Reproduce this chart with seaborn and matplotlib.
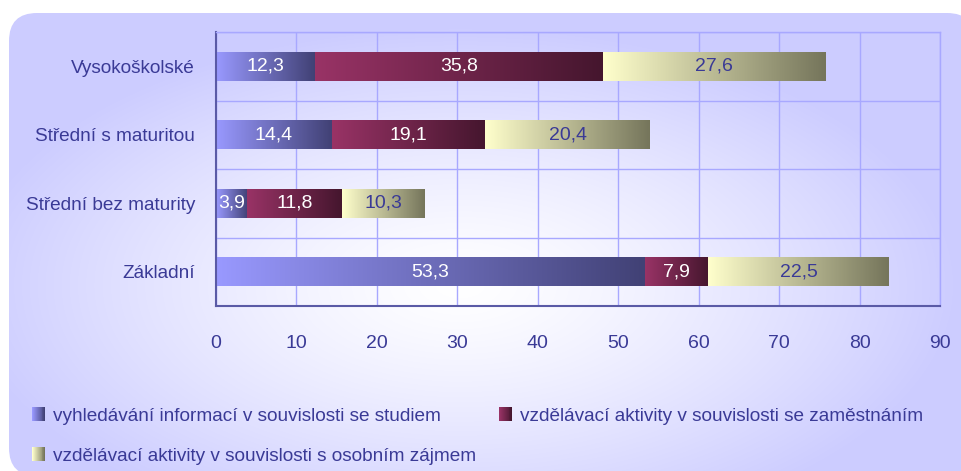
import numpy as np
import pandas as pd
import matplotlib
matplotlib.use("Agg")
import matplotlib.pyplot as plt
import seaborn as sns
from matplotlib.colors import to_rgb
from matplotlib.patches import FancyBboxPatch, Rectangle
from matplotlib.legend_handler import HandlerBase

# ---- data -------------------------------------------------------------
categories = ["Vysokoškolské", "Střední s maturitou", "Střední bez maturity", "Základní"]
series_names = [
    "vyhledávání informací v souvislosti se studiem",
    "vzdělávací aktivity v souvislosti se zaměstnáním",
    "vzdělávací aktivity v souvislosti s osobním zájmem",
]
study = [12.3, 14.4, 3.9, 53.3]
work = [35.8, 19.1, 11.8, 7.9]
personal = [27.6, 20.4, 10.3, 22.5]
x_ticks = [0, 10, 20, 30, 40, 50, 60, 70, 80, 90]

# ---- style ------------------------------------------------------------
sns.set_style("white")
plt.rcParams["font.family"] = ["Liberation Sans Narrow", "Liberation Sans", "DejaVu Sans"]
FS_NUM = 14
FS_TXT = 13.7
TEXT = "#3A3A96"
GRID = "#A8A8FF"
AXIS = "#5A5AA6"
PANEL = "#CCCCFF"
gradients = [("#9999FF", "#414175"), ("#993366", "#45162E"), ("#FFFFCC", "#75755B")]
label_colors = ["white", "white", TEXT]


def gradient_strip(c0, c1, n=256):
    t = np.linspace(0, 1, n)[:, None]
    a, b = np.array(to_rgb(c0)), np.array(to_rgb(c1))
    return (a * (1 - t) + b * t)[None, :, :]


W, H = 962, 471
fig = plt.figure(figsize=(W / 100, H / 100), dpi=100)
fig.patch.set_facecolor("white")

# ---- rounded background panel with a soft radial glow -----------------
bg = fig.add_axes([0, 0, 1, 1], zorder=0)
bg.set_xlim(0, W)
bg.set_ylim(H, 0)
bg.axis("off")
yy, xx = np.mgrid[0:H, 0:W]
r = np.sqrt(((xx - 460) / 500.0) ** 2 + ((yy - 285) / 260.0) ** 2)
t = np.clip(r, 0, 1) ** 1.3
panel_rgb = np.array(to_rgb(PANEL))
img = (1 - t)[..., None] * np.ones(3) + t[..., None] * panel_rgb
im = bg.imshow(img, extent=(0, W, H, 0), interpolation="bilinear")
panel = FancyBboxPatch((9, 13), 966, 463, boxstyle="round,pad=0,rounding_size=28",
                       transform=bg.transData, facecolor="none", edgecolor="none")
bg.add_patch(panel)
im.set_clip_path(panel)

# ---- main axes ---------------------------------------------------------
ax = fig.add_axes([216 / W, 1 - 306 / H, (940 - 216) / W, (306 - 32) / H], zorder=1)
ax.set_facecolor("none")

df = pd.DataFrame({
    "category": categories * 3,
    "series": np.repeat(series_names, len(categories)),
    "value": study + work + personal,
})

lefts = np.zeros(len(categories))
containers = []
for name, vals, (c0, c1) in zip(series_names, [study, work, personal], gradients):
    sub = df[df["series"] == name]
    sns.barplot(data=sub, x="value", y="category", order=categories, orient="h",
                left=lefts.copy(), width=0.42, color=c1, errorbar=None,
                linewidth=0, ax=ax, zorder=2)
    containers.append(ax.containers[-1])
    lefts = lefts + np.array(vals)

# horizontal colour gradient across every bar segment
for cont, (c0, c1) in zip(containers, gradients):
    for bar in cont:
        x0, y0, w, h = bar.get_x(), bar.get_y(), bar.get_width(), bar.get_height()
        ax.imshow(gradient_strip(c0, c1), extent=(x0, x0 + w, y0 + h, y0),
                  aspect="auto", interpolation="bilinear", zorder=2.2)

for cont, vals, col in zip(containers, [study, work, personal], label_colors):
    ax.bar_label(cont, labels=[f"{v:.1f}".replace(".", ",") for v in vals],
                 label_type="center", color=col, fontsize=FS_NUM, zorder=5)

ax.set_xlim(0, 90)
ax.set_ylim(len(categories) - 0.5, -0.5)
ax.set_xticks(x_ticks)
ax.set_yticks(range(len(categories)))
ax.set_yticks(np.arange(-0.5, len(categories), 1.0), minor=True)
ax.set_xlabel("")
ax.set_ylabel("")

ax.set_axisbelow(True)
ax.grid(axis="x", which="major", color=GRID, lw=1, zorder=0)
ax.grid(axis="y", which="minor", color=GRID, lw=1, zorder=0)
ax.grid(axis="y", which="major", visible=False)

for side in ("top", "right"):
    ax.spines[side].set_color(GRID)
    ax.spines[side].set_linewidth(1)
for side in ("left", "bottom"):
    ax.spines[side].set_color(AXIS)
    ax.spines[side].set_linewidth(1.5)

ax.tick_params(axis="x", which="major", direction="out", length=7, width=1.5,
               color=AXIS, labelcolor=TEXT, labelsize=FS_NUM, pad=14)
ax.tick_params(axis="y", which="major", length=0, labelcolor=TEXT, labelsize=FS_TXT, pad=15)
ax.tick_params(axis="y", which="minor", direction="out", length=8, width=1.5, color=AXIS)
ax.tick_params(axis="x", which="minor", length=0)


# ---- legend with gradient swatches -----------------------------------
class GradientSwatch:
    def __init__(self, c0, c1):
        self.c0, self.c1 = c0, c1


class GradientHandler(HandlerBase):
    def create_artists(self, legend, orig_handle, xdescent, ydescent, width, height,
                       fontsize, trans):
        n = 14
        a, b = np.array(to_rgb(orig_handle.c0)), np.array(to_rgb(orig_handle.c1))
        arts = []
        for i in range(n):
            f = i / (n - 1)
            arts.append(Rectangle((-xdescent + width * i / n, -ydescent), width / n * 1.05,
                                  height, facecolor=a * (1 - f) + b * f, edgecolor="none",
                                  transform=trans))
        return arts


swatches = [GradientSwatch(c0, c1) for c0, c1 in gradients]
leg_kw = dict(handler_map={GradientSwatch: GradientHandler()}, loc="upper left",
              frameon=False, fontsize=FS_TXT, labelcolor=TEXT,
              handlelength=0.7, handleheight=0.75, handletextpad=0.4,
              labelspacing=1.18, borderpad=0, borderaxespad=0)
leg1 = fig.legend([swatches[0], swatches[2]], [series_names[0], series_names[2]],
                  bbox_to_anchor=(32 / W, 1 - 407 / H), **leg_kw)
leg2 = fig.legend([swatches[1]], [series_names[1]],
                  bbox_to_anchor=(499 / W, 1 - 407 / H), **leg_kw)
leg1.set_zorder(3)
leg2.set_zorder(3)

fig.savefig("out.png", dpi=100, facecolor="white")
